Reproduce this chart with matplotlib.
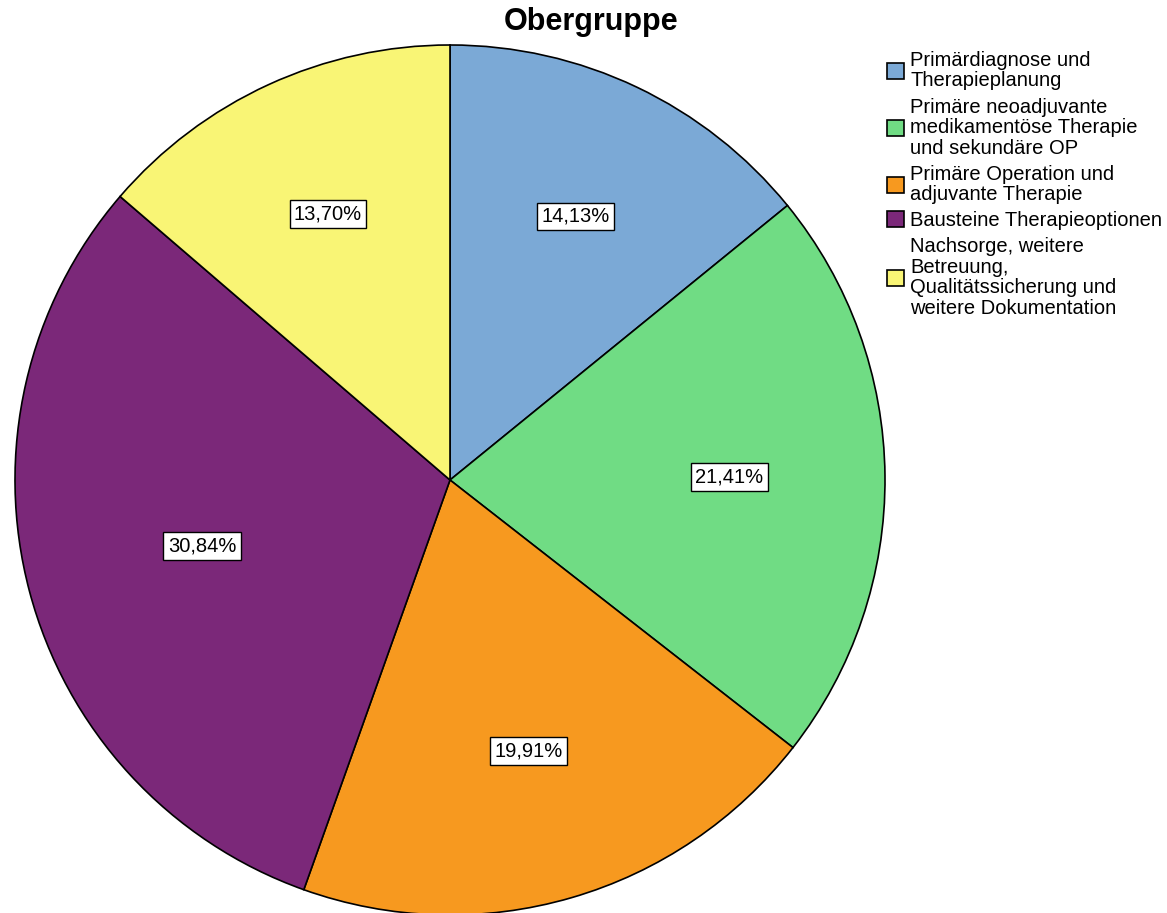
import numpy as np
import matplotlib.pyplot as plt
from matplotlib.patches import Patch

plt.rcParams['font.family'] = ['Liberation Sans', 'DejaVu Sans']

# Obergruppe shares in percent
categories = [
    "Primärdiagnose und\nTherapieplanung",
    "Primäre neoadjuvante\nmedikamentöse Therapie\nund sekundäre OP",
    "Primäre Operation und\nadjuvante Therapie",
    "Bausteine Therapieoptionen",
    "Nachsorge, weitere\nBetreuung,\nQualitätssicherung und\nweitere Dokumentation",
]
shares = [14.13, 21.41, 19.91, 30.84, 13.70]
colors = ["#7BA9D6", "#70DC84", "#F7991F", "#7B2879", "#F9F575"]

W, H = 1167, 913
fig = plt.figure(figsize=(W / 100, H / 100), dpi=100)

# pie area: centre (450, 480), radius 435 px
cx, cy, r = 450, 480, 435
ax = fig.add_axes([(cx - r) / W, (H - cy - r) / H, 2 * r / W, 2 * r / H])

wedges, texts, autotexts = ax.pie(
    shares,
    colors=colors,
    startangle=90,
    counterclock=False,
    radius=1.0,
    autopct=lambda p: f"{p:.2f}%".replace(".", ","),
    pctdistance=0.65,
    wedgeprops=dict(edgecolor="black", linewidth=1.2),
    textprops=dict(fontsize=14.5, color="black"),
)
# put each label near the centroid of its slice (like SPSS does)
for w, t in zip(wedges, autotexts):
    half = np.radians(abs(w.theta2 - w.theta1) / 2)
    mid = np.radians((w.theta1 + w.theta2) / 2)
    d = 1.04 * 2 * np.sin(half) / (3 * half)
    t.set_position((d * np.cos(mid), d * np.sin(mid)))
    t.set_bbox(dict(boxstyle="square,pad=0.22", facecolor="white",
                    edgecolor="black", linewidth=1))
ax.set_xlim(-1.0, 1.0)
ax.set_ylim(-1.0, 1.0)
ax.set_aspect("equal")
ax.axis("off")

fig.text(591 / W, 1 - 22 / H, "Obergruppe", ha="center", va="center",
         fontsize=22, fontweight="bold")

handles = [Patch(facecolor=c, edgecolor="black", linewidth=1.2) for c in colors]
leg = fig.legend(handles, categories, loc="upper left",
                 bbox_to_anchor=(887 / W, 1 - 51 / H), frameon=False,
                 fontsize=14.5, handlelength=0.85, handleheight=0.85,
                 handletextpad=0.3, labelspacing=0.35, borderpad=0,
                 borderaxespad=0)
for t in leg.get_texts():
    t.set_linespacing(1.1)

fig.savefig("out.png", dpi=100)
